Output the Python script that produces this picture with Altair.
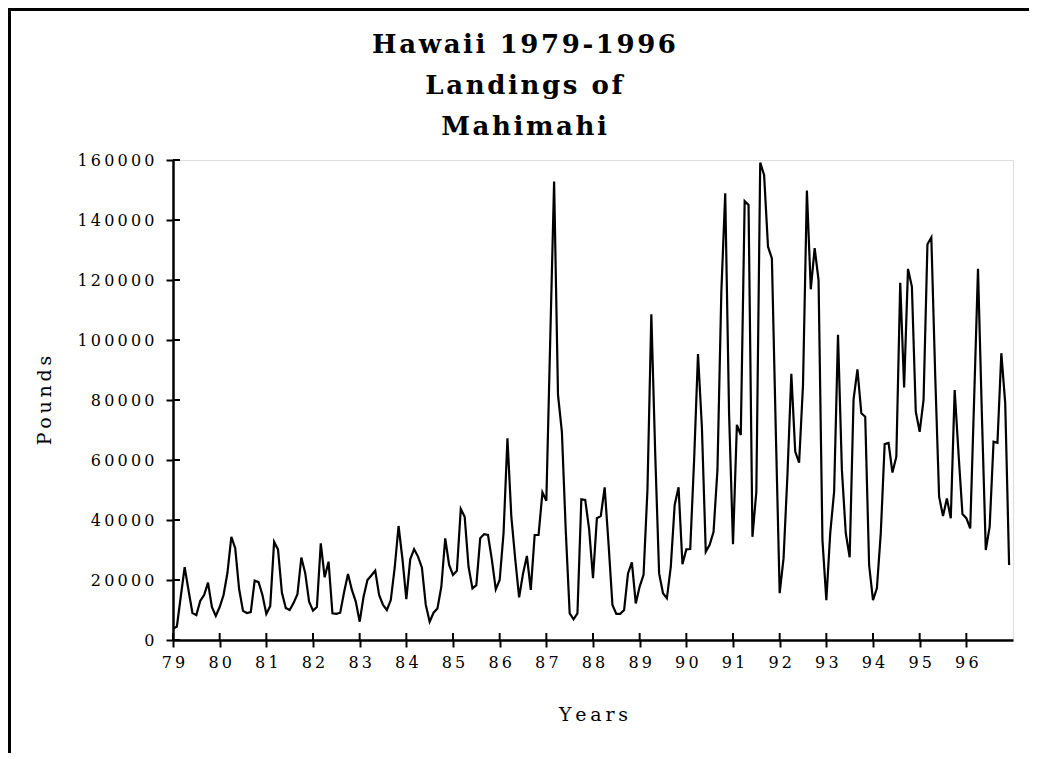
import altair as alt
import pandas as pd

# ---- data (monthly landings, pounds) ----
year_labels = ["79", "80", "81", "82", "83", "84", "85", "86", "87",
               "88", "89", "90", "91", "92", "93", "94", "95", "96"]

pounds_1979 = [3700, 4500, 14500, 24300, 16500, 9000, 8300, 13000, 15000, 19100, 11000, 8000]
pounds_1980 = [11000, 15000, 22400, 34400, 30600, 17000, 9700, 9000, 9300, 19800, 19300, 15000]
pounds_1981 = [8700, 11300, 32700, 30200, 15800, 10700, 10000, 12300, 15300, 27500, 22300, 12800]
pounds_1982 = [9800, 11000, 32200, 20900, 26100, 8900, 8700, 9100, 16000, 22000, 16700, 12800]
pounds_1983 = [6100, 14400, 20000, 21500, 23100, 15000, 11700, 10000, 13300, 24000, 38000, 27000]
pounds_1984 = [13600, 26900, 30300, 27800, 24200, 11700, 6100, 9100, 10500, 17800, 33900, 25000]
pounds_1985 = [21700, 23100, 43700, 41100, 24400, 17200, 18300, 33900, 35300, 35000, 26700, 16900]
pounds_1986 = [20000, 35600, 67200, 41100, 27000, 14200, 22100, 28000, 16700, 35000, 35000, 49200]
pounds_1987 = [46400, 100000, 152800, 81700, 69400, 36300, 8900, 6900, 8900, 46900, 46700, 37000]
pounds_1988 = [20600, 40600, 41300, 50900, 32000, 11700, 8700, 8700, 10000, 22200, 25900, 12200]
pounds_1989 = [17800, 21700, 50000, 108600, 62000, 22200, 15600, 13900, 24400, 45000, 50900, 25300]
pounds_1990 = [30200, 30300, 60000, 95300, 71000, 29400, 31700, 36100, 56700, 116000, 148900, 75000]
pounds_1991 = [31900, 71700, 68300, 146300, 145000, 34400, 49400, 159100, 155000, 131100, 127200, 70000]
pounds_1992 = [15600, 27200, 55000, 88700, 62800, 59100, 85000, 149800, 116900, 130600, 120000, 33300]
pounds_1993 = [13300, 35600, 49400, 101700, 56700, 35600, 27600, 80200, 90200, 75600, 74400, 25000]
pounds_1994 = [13300, 17200, 35600, 65300, 65700, 55800, 61100, 119100, 84200, 123700, 117800, 76100]
pounds_1995 = [69400, 80000, 131900, 134200, 88000, 47800, 41300, 47200, 40600, 83300, 62000, 42000]
pounds_1996 = [40600, 37200, 80000, 123700, 75000, 30000, 37800, 66100, 65700, 95600, 78900, 25000]

y_tick_values = [0, 20000, 40000, 60000, 80000, 100000, 120000, 140000, 160000]
title_lines = ["Hawaii 1979-1996", "Landings of", "Mahimahi"]
x_title = "Years"
y_title = "Pounds"

all_pounds = (pounds_1979 + pounds_1980 + pounds_1981 + pounds_1982 + pounds_1983 +
              pounds_1984 + pounds_1985 + pounds_1986 + pounds_1987 + pounds_1988 +
              pounds_1989 + pounds_1990 + pounds_1991 + pounds_1992 + pounds_1993 +
              pounds_1994 + pounds_1995 + pounds_1996)
df = pd.DataFrame({"month": list(range(len(all_pounds))), "pounds": all_pounds})
x_tick_values = [12 * i for i in range(len(year_labels))]

# ---- styling ----
FONT = "DejaVu Serif"
THIN = "\u2009"
HAIR = "\u200a"
W, H = 840, 480

x_scale = alt.Scale(domain=[0, 12 * len(year_labels)], nice=False, zero=False)
y_scale = alt.Scale(domain=[0, 160000], nice=False)

x_label_expr = "[" + ",".join("'" + THIN.join(s) + "'" for s in year_labels) + "][round(datum.value / 12)]"
y_label_expr = "join(split(format(datum.value, 'd'), ''), '" + THIN + "')"

common_axis = dict(
    domainColor="black", domainWidth=2.5, tickColor="black", tickWidth=2, tickSize=7,
    labelFont=FONT, labelFontSize=16, labelColor="black", labelOverlap=False,
    labelFlush=False, titleFont=FONT, titleFontSize=19, titleFontWeight="normal",
    titleColor="black", grid=False,
)

line = alt.Chart(df).mark_line(color="black", strokeWidth=2.2).encode(
    x=alt.X("month:Q", scale=x_scale,
            axis=alt.Axis(values=x_tick_values, labelExpr=x_label_expr,
                          title=THIN.join(x_title), labelPadding=7, titlePadding=35,
                          **common_axis)),
    y=alt.Y("pounds:Q", scale=y_scale,
            axis=alt.Axis(values=y_tick_values, labelExpr=y_label_expr,
                          title=THIN.join(y_title), labelPadding=12, titlePadding=22,
                          **common_axis)),
)

ytick_df = pd.DataFrame({"pounds": y_tick_values})
ytick_in = alt.Chart(ytick_df).mark_rule(color="black", strokeWidth=2).encode(
    y=alt.Y("pounds:Q", scale=y_scale),
    x=alt.value(0), x2=alt.value(7),
)
xtick_df = pd.DataFrame({"month": x_tick_values})
xtick_in = alt.Chart(xtick_df).mark_rule(color="black", strokeWidth=2).encode(
    x=alt.X("month:Q", scale=x_scale),
    y=alt.value(H), y2=alt.value(H - 7),
)

frame_df = pd.DataFrame({"k": [0]})
border_left = alt.Chart(frame_df).mark_rule(color="black", strokeWidth=3).encode(
    x=alt.value(-163.5), y=alt.value(-151.5), y2=alt.value(H + 140),
)
border_top = alt.Chart(frame_df).mark_rule(color="black", strokeWidth=3).encode(
    x=alt.value(-165), x2=alt.value(W + 60), y=alt.value(-150.5),
)

chart = alt.layer(line, ytick_in, xtick_in, border_left, border_top).properties(
    width=W, height=H,
    title=alt.TitleParams(
        text=[HAIR.join(t) for t in title_lines], font=FONT, fontSize=26,
        fontWeight="bold", color="black", lineHeight=41, anchor="middle",
        frame="group", dx=-69, offset=-133,
    ),
    padding={"left": 165, "top": 152, "right": 16, "bottom": 113},
    autosize=alt.AutoSizeParams(type="none"),
).configure_view(stroke="black", strokeWidth=2.5).configure(background="white")

chart.save("out.html", embed_options={"renderer": "svg", "actions": False})
